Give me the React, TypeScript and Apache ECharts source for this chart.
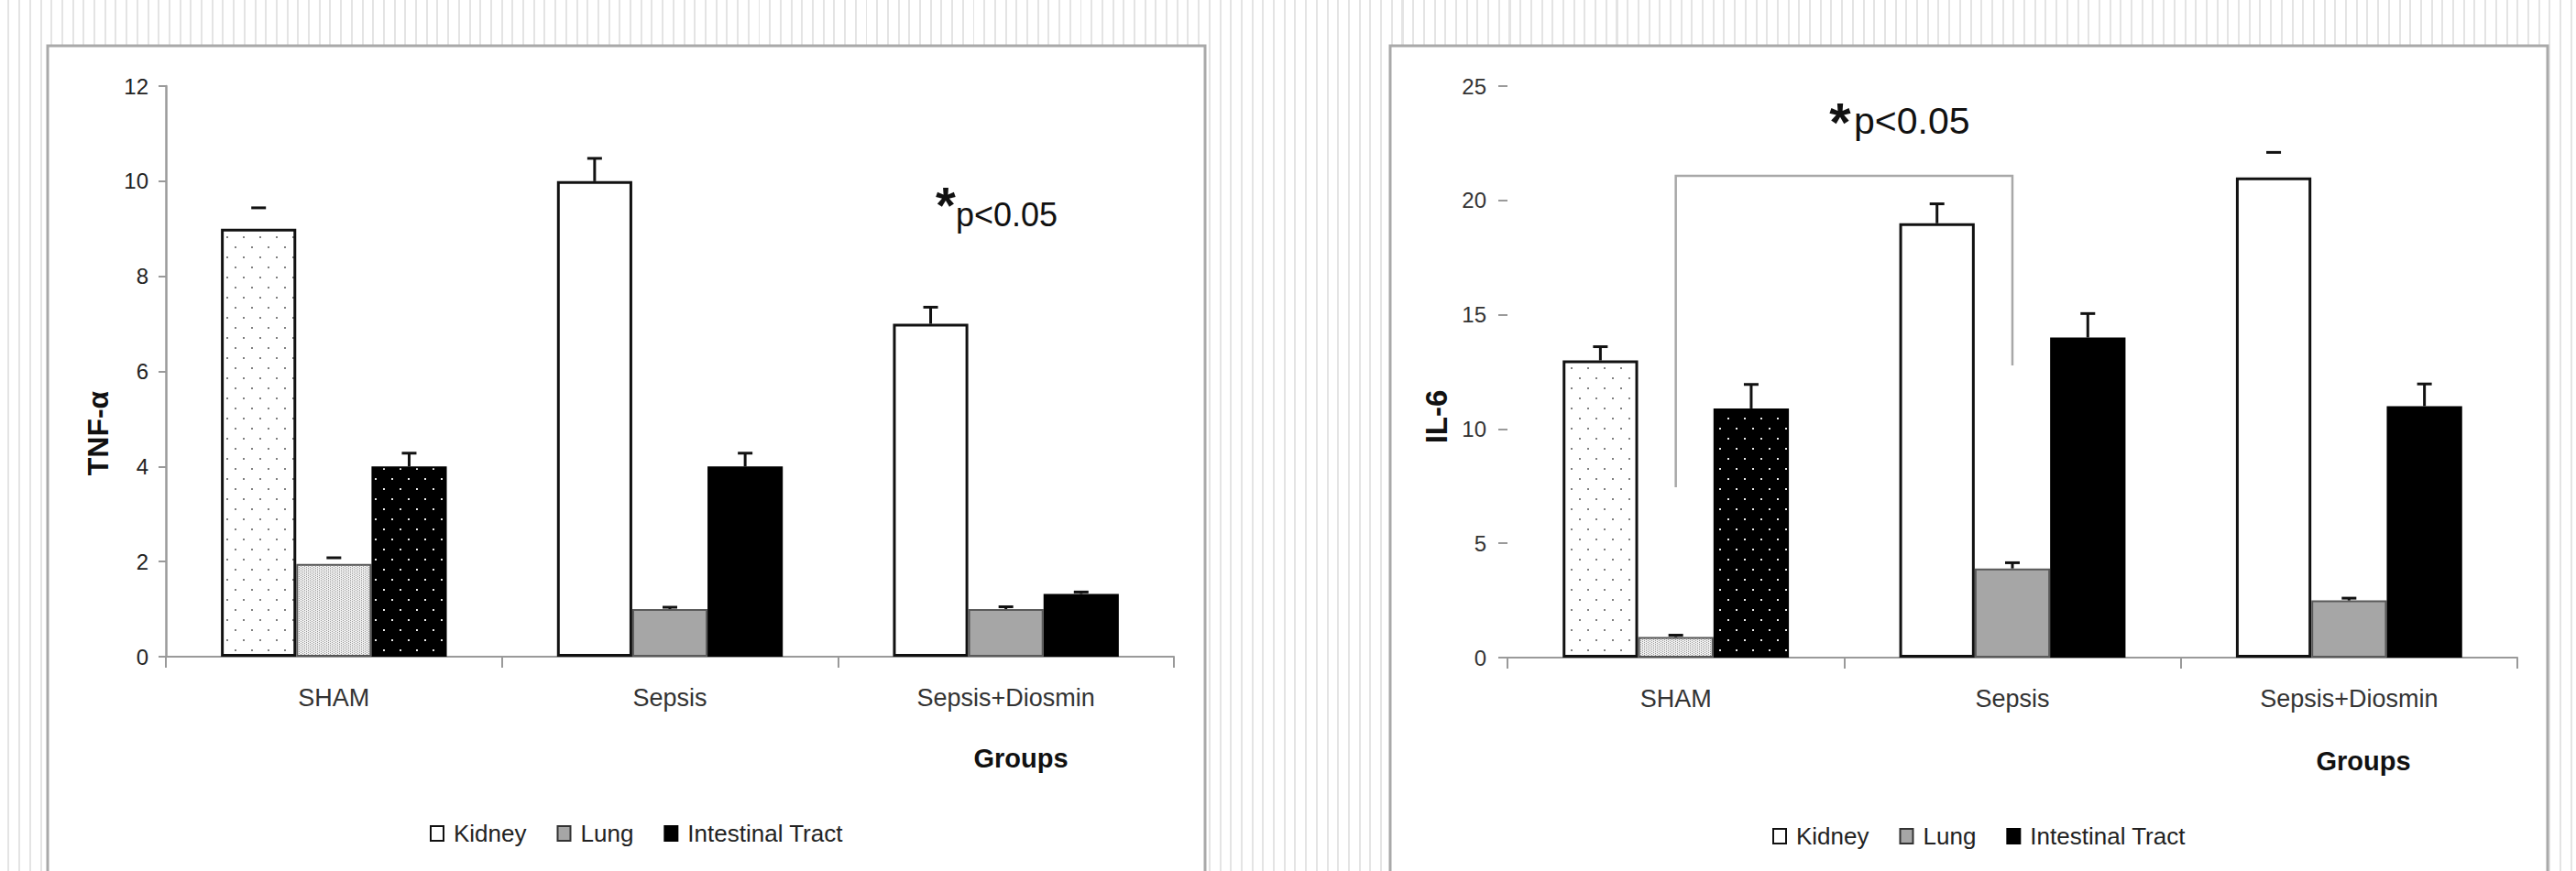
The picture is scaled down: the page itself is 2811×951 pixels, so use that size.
import React, { useEffect, useRef } from "react";
import * as echarts from "echarts";

// ---------- data ----------
const categories = ["SHAM", "Sepsis", "Sepsis+Diosmin"];
const seriesNames = ["Kidney", "Lung", "Intestinal Tract"];

// TNF-α panel
const tnfKidney = [9, 10, 7];
const tnfLung = [1.95, 1.0, 1.0];
const tnfIntestinal = [4.0, 4.0, 1.32];
const tnfKidneyErr = [0.44, 0.48, 0.35];
const tnfLungErr = [0.13, 0.04, 0.05];
const tnfIntestinalErr = [0.28, 0.28, 0.04];
const tnfTicks = [0, 2, 4, 6, 8, 10, 12];

// IL-6 panel
const il6Kidney = [13, 19, 21];
const il6Lung = [0.9, 3.9, 2.5];
const il6Intestinal = [10.9, 14, 11];
const il6KidneyErr = [0.6, 0.85, 1.1];
const il6LungErr = [0.08, 0.25, 0.1];
const il6IntestinalErr = [1.05, 1.05, 0.97];
const il6Ticks = [0, 5, 10, 15, 20, 25];

// significance bracket SHAM -> Sepsis (left foot, top, right foot)
const il6Bracket = [7.45, 21.07, 12.78];

// ---------- styles ----------
const NARROW = "'Liberation Sans Narrow', 'Arial Narrow', 'Liberation Sans', Arial, sans-serif";
const SANS = "'Liberation Sans', Arial, sans-serif";
const BAR_FRAC = 0.224;
const AXIS_GRAY = "#9a9a9a";

function makePattern(w: number, h: number, bg: string, fg: string, dots: number[][]) {
  const c = document.createElement("canvas");
  c.width = w;
  c.height = h;
  const ctx = c.getContext("2d")!;
  ctx.fillStyle = bg;
  ctx.fillRect(0, 0, w, h);
  ctx.fillStyle = fg;
  dots.forEach(([x, y, dw, dh]) => ctx.fillRect(x, y, dw, dh));
  return { image: c, repeat: "repeat", imageWidth: w, imageHeight: h } as any;
}

const renderErr = (params: any, api: any) => {
  const c = api.value(0);
  const v = api.value(1);
  const e = api.value(2);
  const k = api.value(3);
  const hide = api.value(4);
  const band = api.size([1, 0])[0];
  const bw = band * BAR_FRAC;
  const p0 = api.coord([c, v]);
  const p1 = api.coord([c, v + e]);
  const x = p0[0] + (k - 1) * bw;
  const style = { stroke: "#111", lineWidth: 3 };
  const children: any[] = [];
  if (!hide) children.push({ type: "line", shape: { x1: x, y1: p0[1], x2: x, y2: p1[1] }, style });
  children.push({ type: "line", shape: { x1: x - 8, y1: p1[1], x2: x + 8, y2: p1[1] }, style });
  return { type: "group", children };
};

export default function App() {
  const ref = useRef<HTMLDivElement>(null);

  useEffect(() => {
    if (!ref.current) return;
    const chart = echarts.init(ref.current, undefined, { renderer: "svg" });

    const kidneyDots = makePattern(18, 22, "#ffffff", "#808080", [[4, 5, 2, 2], [13, 16, 2, 2]]);
    const lungFine = makePattern(4, 4, "#f0f0f0", "#9c9c9c", [[0, 0, 1, 1], [0, 2, 1, 1], [2, 1, 1, 1], [2, 3, 1, 1]]);
    const intDots = makePattern(18, 22, "#000000", "#e8e8e8", [[4, 5, 2, 2], [13, 16, 2, 2]]);

    const baseStyles = [
      { color: "#ffffff", borderColor: "#111", borderWidth: 3 },
      { color: "#a6a6a6", borderColor: "#5a5a5a", borderWidth: 2 },
      { color: "#000000", borderColor: "#000", borderWidth: 2 },
    ];
    const shamStyles = [
      { color: kidneyDots, borderColor: "#111", borderWidth: 3 },
      { color: lungFine, borderColor: "#555", borderWidth: 2 },
      { color: intDots, borderColor: "#000", borderWidth: 2 },
    ];

    const buildSeries = (gi: number, vals: number[][], errs: number[][], hidden: string[]) => {
      const bars = seriesNames.map((name, k) => ({
        type: "bar",
        name,
        xAxisIndex: gi,
        yAxisIndex: gi,
        barWidth: BAR_FRAC * 100 + "%",
        barGap: "0%",
        itemStyle: baseStyles[k],
        data: vals[k].map((v, c) => (c === 0 ? { value: v, itemStyle: shamStyles[k] } : v)),
      }));
      const errData: number[][] = [];
      vals.forEach((arr, k) =>
        arr.forEach((v, c) => errData.push([c, v, errs[k][c], k, hidden.includes(k + "-" + c) ? 1 : 0]))
      );
      const err = {
        type: "custom",
        xAxisIndex: gi,
        yAxisIndex: gi,
        z: 5,
        renderItem: renderErr,
        data: errData,
      };
      return [...bars, err];
    };

    const xAxisBase = (gi: number) => ({
      type: "category",
      gridIndex: gi,
      data: categories,
      axisLine: { lineStyle: { color: AXIS_GRAY, width: 2 } },
      axisTick: { show: true, length: 12, lineStyle: { color: AXIS_GRAY, width: 2 } },
      axisLabel: { fontSize: 27, color: "#333", margin: 31, fontFamily: NARROW },
    });

    const legendData = [
      { name: "Kidney", itemStyle: { color: "#fff", borderColor: "#111", borderWidth: 2 } },
      { name: "Lung", itemStyle: { color: "#a6a6a6", borderColor: "#333", borderWidth: 2 } },
      { name: "Intestinal Tract", itemStyle: { color: "#000", borderColor: "#000", borderWidth: 2 } },
    ];
    const legendBase = {
      orient: "horizontal",
      icon: "rect",
      itemWidth: 14,
      itemHeight: 16,
      itemGap: 33,
      padding: 0,
      selectedMode: false,
      textStyle: { fontSize: 26, color: "#222", fontFamily: NARROW, padding: [0, 0, 0, 6] },
      data: legendData,
    };

    const option: any = {
      animation: false,
      grid: [
        { left: 181, top: 94, width: 1100, height: 623 },
        { left: 1645, top: 94, width: 1102, height: 624 },
      ],
      xAxis: [xAxisBase(0), xAxisBase(1)],
      yAxis: [
        {
          type: "value",
          gridIndex: 0,
          min: tnfTicks[0],
          max: tnfTicks[tnfTicks.length - 1],
          interval: tnfTicks[1] - tnfTicks[0],
          splitLine: { show: false },
          axisLine: { show: true, lineStyle: { color: AXIS_GRAY, width: 2.5 } },
          axisTick: { show: true, length: 8, lineStyle: { color: AXIS_GRAY, width: 2 } },
          axisLabel: { fontSize: 24, color: "#222", margin: 19, fontFamily: NARROW },
        },
        {
          type: "value",
          gridIndex: 1,
          min: il6Ticks[0],
          max: il6Ticks[il6Ticks.length - 1],
          interval: il6Ticks[1] - il6Ticks[0],
          splitLine: { show: false },
          axisLine: { show: true, lineStyle: { color: "rgba(0,0,0,0)", width: 1 } },
          axisTick: { show: true, length: 10, lineStyle: { color: AXIS_GRAY, width: 2 } },
          axisLabel: { fontSize: 24, color: "#333", margin: 23, fontFamily: NARROW },
        },
      ],
      legend: [
        { ...legendBase, left: 469, top: 897 },
        { ...legendBase, left: 1934, top: 900 },
      ],
      series: [
        ...buildSeries(
          0,
          [tnfKidney, tnfLung, tnfIntestinal],
          [tnfKidneyErr, tnfLungErr, tnfIntestinalErr],
          ["0-0", "1-0"]
        ),
        ...buildSeries(
          1,
          [il6Kidney, il6Lung, il6Intestinal],
          [il6KidneyErr, il6LungErr, il6IntestinalErr],
          ["0-2"]
        ),
        {
          type: "custom",
          xAxisIndex: 1,
          yAxisIndex: 1,
          z: 4,
          data: [[0, il6Bracket[1]]],
          renderItem: (params: any, api: any) => {
            const a = api.coord([0, il6Bracket[0]]);
            const b = api.coord([0, il6Bracket[1]]);
            const c = api.coord([1, il6Bracket[1]]);
            const d = api.coord([1, il6Bracket[2]]);
            return {
              type: "polyline",
              shape: { points: [a, b, c, d] },
              style: { stroke: "#a8a8a8", lineWidth: 2.5, fill: "none" },
            };
          },
        },
      ],
      graphic: [
        {
          type: "rect",
          z: -100,
          shape: { x: 52, y: 50, width: 1263, height: 1000 },
          style: { fill: "#ffffff", stroke: "#a9a9a9", lineWidth: 3 },
        },
        {
          type: "rect",
          z: -100,
          shape: { x: 1517, y: 50, width: 1263, height: 1000 },
          style: { fill: "#ffffff", stroke: "#a9a9a9", lineWidth: 3 },
        },
        {
          type: "text",
          x: 107,
          y: 473,
          rotation: Math.PI / 2,
          style: { text: "TNF-α", fontSize: 32, fontWeight: "bold", fontFamily: SANS, fill: "#111", align: "center", verticalAlign: "middle" },
        },
        {
          type: "text",
          x: 1567,
          y: 455,
          rotation: Math.PI / 2,
          style: { text: "IL-6", fontSize: 33, fontWeight: "bold", fontFamily: SANS, fill: "#111", align: "center", verticalAlign: "middle" },
        },
        {
          type: "text",
          x: 1114,
          y: 828,
          style: { text: "Groups", fontSize: 29, fontWeight: "bold", fontFamily: NARROW, fill: "#111", align: "center", verticalAlign: "middle" },
        },
        {
          type: "text",
          x: 2579,
          y: 831,
          style: { text: "Groups", fontSize: 29, fontWeight: "bold", fontFamily: NARROW, fill: "#111", align: "center", verticalAlign: "middle" },
        },
        {
          type: "text",
          x: 1032,
          y: 223,
          style: { text: "*", fontSize: 56, fontWeight: "bold", fontFamily: SANS, fill: "#111", align: "center", verticalAlign: "middle" },
        },
        {
          type: "text",
          x: 1043,
          y: 234,
          style: { text: "p<0.05", fontSize: 36, fontFamily: SANS, fill: "#111", align: "left", verticalAlign: "middle" },
        },
        {
          type: "text",
          x: 2008,
          y: 133,
          style: { text: "*", fontSize: 60, fontWeight: "bold", fontFamily: SANS, fill: "#111", align: "center", verticalAlign: "middle" },
        },
        {
          type: "text",
          x: 2023,
          y: 132,
          style: { text: "p<0.05", fontSize: 41, fontFamily: SANS, fill: "#111", align: "left", verticalAlign: "middle" },
        },
      ],
    };

    chart.setOption(option);
    return () => chart.dispose();
  }, []);

  return (
    <div
      ref={ref}
      style={{
        position: "fixed",
        left: 0,
        top: 0,
        width: 2811,
        height: 951,
        backgroundColor: "#ffffff",
        backgroundImage:
          "repeating-linear-gradient(90deg, #ffffff 0px, #ffffff 8.5px, #e4e4e4 8.5px, #e4e4e4 10.5px, #ffffff 10.5px, #ffffff 11.7px)",
      }}
    />
  );
}
